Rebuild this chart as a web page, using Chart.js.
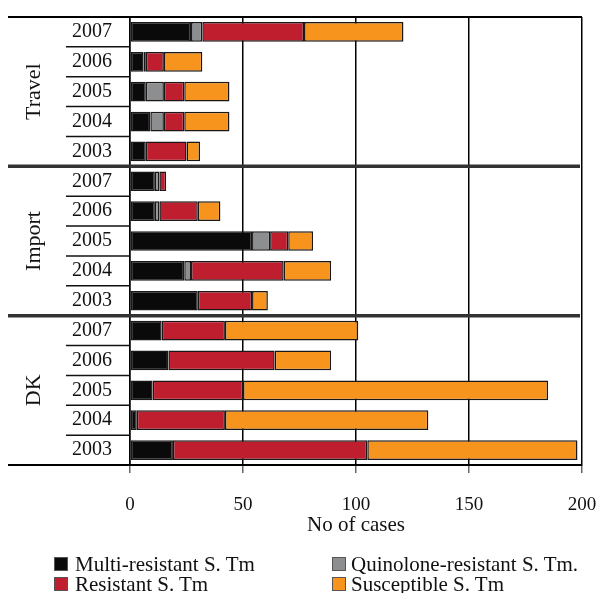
<!DOCTYPE html>
<html>
<head>
<meta charset="utf-8">
<script src="https://cdn.jsdelivr.net/npm/chart.js@4.4.1/dist/chart.umd.min.js"></script>
<style>
  body { margin: 0; background: #fff; }
  #wrap { position: relative; width: 603px; height: 593px; overflow: hidden; }
  .lg { position: absolute; font-family: "Liberation Serif", serif; font-size: 21px; line-height: 20px; color: #111; white-space: nowrap; }
  .sq { position: absolute; width: 12px; height: 12px; border: 1px solid #555; }
</style>
</head>
<body>
<div id="wrap">
  <canvas id="chart" width="603" height="593"></canvas>
  <div class="sq" style="left:54px;top:557px;background:#0a0a0a"></div>
  <div class="lg" style="left:75px;top:554px">Multi-resistant S. Tm</div>
  <div class="sq" style="left:332px;top:557px;background:#8d8e90"></div>
  <div class="lg" style="left:351px;top:554px">Quinolone-resistant S. Tm.</div>
  <div class="sq" style="left:54px;top:577px;background:#be1e2e"></div>
  <div class="lg" style="left:75px;top:574px">Resistant S. Tm</div>
  <div class="sq" style="left:332px;top:577px;background:#f7941e"></div>
  <div class="lg" style="left:351px;top:574px">Susceptible S. Tm</div>
</div>
<script>
const groups = ["Travel", "Import", "DK"];
const years = ["2007", "2006", "2005", "2004", "2003"];
const xTicks = [0, 50, 100, 150, 200];

// rows: Travel 2007..2003, Import 2007..2003, DK 2007..2003
const multiResistant = [27, 6, 7, 9, 7, 11, 11, 54, 24, 30, 14, 17, 10, 3, 19];
const quinoloneResistant = [5, 1, 8, 6, 0, 2, 2, 8, 3, 0, 0, 0, 0, 0, 0];
const resistant = [45, 8, 9, 9, 18, 3, 17, 8, 41, 24, 28, 47, 40, 39, 86];
const susceptible = [44, 17, 20, 20, 6, 0, 10, 11, 21, 7, 59, 25, 135, 90, 93];

const labels = groups.flatMap(() => years);
const serif = '"Liberation Serif", serif';
Chart.defaults.font.family = serif;
Chart.defaults.color = "#111";

const groupDecor = {
  id: "groupDecor",
  afterDraw(chart) {
    const { ctx, chartArea } = chart;
    const y = chart.scales.y;
    const x = chart.scales.x;
    const right = x.getPixelForValue(200);
    const edge = (i) => (y.getPixelForValue(i) + y.getPixelForValue(i + 1)) / 2;
    ctx.save();
    // short row lines next to the year labels
    ctx.strokeStyle = "#111";
    ctx.lineWidth = 1.5;
    for (let i = 0; i < labels.length - 1; i++) {
      if ((i + 1) % years.length === 0) continue;
      const yy = edge(i);
      ctx.beginPath();
      ctx.moveTo(66, yy);
      ctx.lineTo(chartArea.left, yy);
      ctx.stroke();
    }
    // top and bottom lines
    ctx.strokeStyle = "#000";
    ctx.lineWidth = 2;
    [chartArea.top, chartArea.bottom].forEach((yy) => {
      ctx.beginPath();
      ctx.moveTo(8, yy);
      ctx.lineTo(right, yy);
      ctx.stroke();
    });
    // group separators
    ctx.strokeStyle = "#333";
    ctx.lineWidth = 3.5;
    for (let g = 1; g < groups.length; g++) {
      const yy = edge(g * years.length - 1);
      ctx.beginPath();
      ctx.moveTo(8, yy);
      ctx.lineTo(right - 2, yy);
      ctx.stroke();
    }
    // group labels
    ctx.fillStyle = "#111";
    ctx.font = "22px " + serif;
    ctx.textAlign = "center";
    ctx.textBaseline = "middle";
    groups.forEach((g, gi) => {
      const yy = y.getPixelForValue(gi * years.length + 2);
      ctx.save();
      ctx.translate(34, yy);
      ctx.rotate(-Math.PI / 2);
      ctx.fillText(g, 0, 0);
      ctx.restore();
    });
    ctx.restore();
  },
};

const ds = (label, data, color) => ({
  label,
  data,
  backgroundColor: color,
  borderColor: "#1a1718",
  borderWidth: 1.5,
  borderSkipped: false,
  barPercentage: 0.66,
  categoryPercentage: 1,
});

new Chart(document.getElementById("chart"), {
  type: "bar",
  data: {
    labels: labels,
    datasets: [
      ds("Multi-resistant S. Tm", multiResistant, "#0a0a0a"),
      ds("Quinolone-resistant S. Tm.", quinoloneResistant, "#8d8e90"),
      ds("Resistant S. Tm", resistant, "#be1e2e"),
      ds("Susceptible S. Tm", susceptible, "#f7941e"),
    ],
  },
  options: {
    indexAxis: "y",
    responsive: false,
    animation: false,
    layout: { padding: { left: 0, right: 21, top: 17, bottom: 55 } },
    plugins: { legend: { display: false }, tooltip: { enabled: false } },
    scales: {
      x: {
        stacked: true,
        min: 0,
        max: 200,
        afterBuildTicks: (s) => { s.ticks = xTicks.map((v) => ({ value: v })); },
        afterFit: (s) => {
          s.height = 73;
          s.paddingLeft = 0;
          s.paddingRight = 0;
        },
        grid: { color: "#000", lineWidth: 1.5, tickLength: 8, tickColor: "#666" },
        border: { display: true, color: "#000", width: 2 },
        ticks: { font: { size: 19 }, padding: 21, color: "#111" },
        title: { display: true, text: "No of cases", font: { size: 21 }, padding: 0, color: "#111" },
      },
      y: {
        stacked: true,
        afterFit: (s) => {
          s.width = 130;
          s.paddingTop = 0;
          s.paddingBottom = 0;
        },
        grid: { display: false, drawTicks: false },
        border: { display: true, color: "#000", width: 1.5 },
        ticks: { font: { size: 20 }, padding: 18, color: "#111", autoSkip: false },
      },
    },
  },
  plugins: [groupDecor],
});
</script>
</body>
</html>
